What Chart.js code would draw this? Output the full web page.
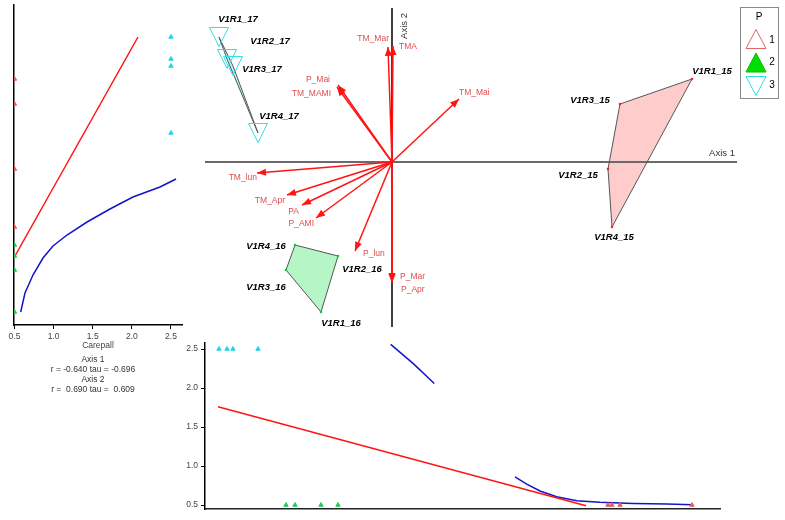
<!DOCTYPE html>
<html><head><meta charset="utf-8">
<script src="https://cdn.jsdelivr.net/npm/chart.js@4/dist/chart.umd.min.js"></script>
<style>
html,body{margin:0;padding:0;background:#fff;width:785px;height:520px;overflow:hidden;font-family:'Liberation Sans',Arial,sans-serif;}
canvas{position:absolute;}
.note{position:absolute;left:0;width:186px;text-align:center;font-size:8.5px;color:#333;line-height:10px;white-space:pre;}
</style></head><body>
<canvas id="cLeft" width="200" height="360" style="left:0;top:0;width:200px;height:360px"></canvas>
<canvas id="cMain" width="585" height="335" style="left:200px;top:0;width:585px;height:335px"></canvas>
<canvas id="cBottom" width="635" height="185" style="left:150px;top:335px;width:635px;height:185px"></canvas>
<div id="notes"></div>
<script>
// ---------------- DATA ----------------
const legendTitle = 'P';
const groupNames = ['1', '2', '3'];

const sites15 = ['V1R1_15', 'V1R2_15', 'V1R3_15', 'V1R4_15'];
const axis1_15 = [3.00, 2.16, 2.28, 2.20];
const axis2_15 = [0.83, -0.07, 0.58, -0.65];
const carepall_15 = [0.5, 0.5, 0.5, 0.5];

const sites16 = ['V1R1_16', 'V1R2_16', 'V1R3_16', 'V1R4_16'];
const axis1_16 = [-0.71, -0.54, -1.06, -0.97];
const axis2_16 = [-1.50, -0.94, -1.08, -0.83];
const carepall_16 = [0.5, 0.5, 0.5, 0.5];

const sites17 = ['V1R1_17', 'V1R2_17', 'V1R3_17', 'V1R4_17'];
const axis1_17 = [-1.73, -1.65, -1.59, -1.34];
const axis2_17 = [1.25, 1.03, 0.96, 0.29];
const carepall_17 = [2.5, 2.5, 2.5, 2.5];

// hull vertex order (indices into the site arrays)
const hull15 = [0, 2, 1, 3];
const hull16 = [3, 1, 0, 2];
const hull17 = [0, 1, 3, 2];

const vectorNames = ['TM_Mar', 'TMA', 'P_Mai', 'TM_MAMI', 'TM_Mai', 'TM_lun', 'TM_Apr', 'PA', 'P_AMI', 'P_lun', 'P_Mar', 'P_Apr'];
const vectorAxis1 = [-0.04, 0.01, -0.54, -0.55, 0.67, -1.35, -1.05, -0.90, -0.76, -0.37, 0.00, 0.00];
const vectorAxis2 = [1.15, 1.16, 0.77, 0.75, 0.63, -0.11, -0.33, -0.43, -0.56, -0.89, -1.20, -1.21];

const careTicks = [0.5, 1.0, 1.5, 2.0, 2.5];
const careAxisTitle = 'Carepall';

// Carepall vs Axis 2 (left panel)
const careLineX = [0.506, 2.078];
const careLineY = [-0.94, 1.25];
const careCurveX = [0.579, 0.634, 0.736, 0.864, 0.992, 1.171, 1.427, 1.720, 2.014, 2.359, 2.564];
const careCurveY = [-1.50, -1.31, -1.13, -0.96, -0.84, -0.73, -0.60, -0.47, -0.35, -0.25, -0.17];

// Axis 1 vs Carepall (bottom panel)
const ax1LineX = [-1.74, 1.94];
const ax1LineY = [1.76, 0.49];
const ax1CurveAX = [-0.013, 0.213, 0.423];
const ax1CurveAY = [2.56, 2.313, 2.058];
const ax1CurveBX = [1.23, 1.347, 1.48, 1.647, 1.847, 2.08, 2.413, 2.747, 3.007];
const ax1CurveBY = [0.86, 0.768, 0.68, 0.606, 0.555, 0.534, 0.521, 0.513, 0.504];

const statLines = ['Axis 1', 'r = -0.640 tau = -0.696', 'Axis 2', 'r =  0.690 tau =  0.609'];

// ---------------- STYLE / LAYOUT ----------------
const C = {
  red: '#ff1414', vecText: '#e04c4c', blue: '#1414c8',
  t15: '#e06060', t16: '#22cc55', t17: '#22d4e0',
  cyanTri: '#30e0e8', pink: '#ffcccc', green: '#b6f5c6', cyanFill: '#b8f4f8', hullLine: '#555'
};
const FONT = "'Liberation Sans', Arial, sans-serif";
// label offsets (px) relative to vector tip: [dx, dy, align]
const vecLabelOff = {
  TM_Mar: [1, -8, 'right'], TMA: [6, 1, 'left'], P_Mai: [-8, -5, 'right'], TM_MAMI: [-6, 7, 'right'],
  TM_Mai: [0, -6, 'left'], TM_lun: [0, 5, 'right'], TM_Apr: [-2, 6, 'right'], PA: [-3, 7, 'right'],
  P_AMI: [-2, 6, 'right'], P_lun: [8, 3, 'left'], P_Mar: [8, -5, 'left'], P_Apr: [9, 7, 'left']
};
// site label offsets (center) relative to site point
const siteLabelOff = {
  V1R1_17: [19, -18], V1R2_17: [43, -18], V1R3_17: [29, 3], V1R4_17: [21, -17],
  V1R1_15: [20, -8], V1R3_15: [-30, -4], V1R2_15: [-30, 6], V1R4_15: [2, 10],
  V1R4_16: [-29, 1], V1R2_16: [24, 13], V1R3_16: [-20, 17], V1R1_16: [20, 11]
};

Chart.defaults.font.family = FONT;
Chart.defaults.animation = false;
const pts = (xs, ys) => xs.map((v, i) => ({x: v, y: ys[i]}));
const noPlug = {legend: {display: false}, tooltip: {enabled: false}};

// box-centred downward triangle symbol used as point style
const downTri = (() => {
  const c = document.createElement('canvas'); c.width = 22; c.height = 22;
  const g = c.getContext('2d');
  g.strokeStyle = C.cyanTri; g.lineWidth = 1;
  g.beginPath(); g.moveTo(1.5, 1.5); g.lineTo(20.5, 1.5); g.lineTo(11, 20.5); g.closePath(); g.stroke();
  return c;
})();

// notes under left panel
const notes = document.getElementById('notes');
statLines.forEach((t, i) => {
  const d = document.createElement('div');
  d.className = 'note';
  d.style.top = (354 + i * 10) + 'px';
  d.textContent = t;
  notes.appendChild(d);
});

const tinyTri = (data, col) => ({
  data, pointStyle: 'triangle', pointRadius: 2.5, backgroundColor: col, borderColor: col, borderWidth: 1, showLine: false
});
const lineDs = (data, col) => ({
  data, showLine: true, borderColor: col, borderWidth: 1.5, pointRadius: 0, fill: false
});

// ---------------- LEFT PANEL ----------------
new Chart(document.getElementById('cLeft'), {
  type: 'scatter',
  data: {datasets: [
    tinyTri(pts(carepall_17, axis2_17), C.t17),
    tinyTri(pts(carepall_16, axis2_16), C.t16),
    tinyTri(pts(carepall_15, axis2_15), C.t15),
    lineDs(pts(careLineX, careLineY), C.red),
    lineDs(pts(careCurveX, careCurveY), C.blue)
  ]},
  options: {
    responsive: false, devicePixelRatio: 1,
    layout: {autoPadding: false, padding: {left: 14, top: 5, right: 18, bottom: 0}},
    plugins: noPlug,
    scales: {
      x: {
        type: 'linear', min: 0.4936, max: 2.6406,
        afterBuildTicks: s => { s.ticks = careTicks.map(v => ({value: v})); },
        afterFit: s => { s.height = 35; },
        ticks: {callback: v => Number(v).toFixed(1), font: {size: 8.5}, color: '#444', padding: 3, maxRotation: 0, autoSkip: false},
        grid: {display: true, drawOnChartArea: false, drawTicks: true, tickLength: 4, color: '#000'},
        border: {display: true, color: '#000', width: 1.5},
        title: {display: true, text: careAxisTitle, font: {size: 8.5}, color: '#444', padding: {top: 2, bottom: 9}}
      },
      y: {
        type: 'linear', min: -1.63, max: 1.57,
        afterFit: s => { s.width = 0; },
        ticks: {display: false},
        grid: {display: false},
        border: {display: true, color: '#000', width: 1.5}
      }
    }
  }
});

// ---------------- MAIN BIPLOT ----------------
const hulls = [
  {order: hull15, a1: axis1_15, a2: axis2_15, fill: C.pink},
  {order: hull16, a1: axis1_16, a2: axis2_16, fill: C.green},
  {order: hull17, a1: axis1_17, a2: axis2_17, fill: C.cyanFill}
];
const hullData = h => { const p = h.order.map(i => ({x: h.a1[i], y: h.a2[i]})); p.push(p[0]); return p; };

const vecDatasets = vectorNames.map((n, i) => ({
  label: n,
  data: [{x: 0, y: 0}, {x: vectorAxis1[i], y: vectorAxis2[i]}],
  showLine: true, borderColor: C.red, borderWidth: 1.5, pointRadius: 0, fill: false
}));

const mainPlugin = {
  id: 'mainDecor',
  beforeDatasetsDraw(chart) {
    const {ctx, scales: {x, y}, chartArea: a} = chart;
    ctx.save();
    hulls.forEach(h => {
      ctx.beginPath();
      h.order.forEach((i, k) => {
        const px = x.getPixelForValue(h.a1[i]), py = y.getPixelForValue(h.a2[i]);
        k ? ctx.lineTo(px, py) : ctx.moveTo(px, py);
      });
      ctx.closePath();
      ctx.fillStyle = h.fill;
      ctx.fill();
    });
    const x0 = x.getPixelForValue(0), y0 = y.getPixelForValue(0);
    ctx.strokeStyle = '#6a6a6a'; ctx.lineWidth = 2;
    ctx.beginPath(); ctx.moveTo(a.left, y0); ctx.lineTo(a.right, y0); ctx.stroke();
    ctx.strokeStyle = '#000'; ctx.lineWidth = 1.5;
    ctx.beginPath(); ctx.moveTo(x0, a.top + 3); ctx.lineTo(x0, a.bottom); ctx.stroke();
    // axis titles
    ctx.fillStyle = '#333'; ctx.font = '9.5px ' + FONT; ctx.textBaseline = 'middle';
    ctx.textAlign = 'center';
    ctx.fillText('Axis 1', a.right - 15, y0 - 9);
    ctx.save(); ctx.translate(x0 + 12, a.top + 21); ctx.rotate(-Math.PI / 2);
    ctx.fillText('Axis 2', 0, 0); ctx.restore();
    ctx.restore();
  },
  afterDatasetsDraw(chart) {
    const {ctx, scales: {x, y}} = chart;
    const x0 = x.getPixelForValue(0), y0 = y.getPixelForValue(0);
    ctx.save();
    // arrow heads + vector labels
    vectorNames.forEach((n, i) => {
      const tx = x.getPixelForValue(vectorAxis1[i]), ty = y.getPixelForValue(vectorAxis2[i]);
      const ang = Math.atan2(ty - y0, tx - x0), L = 9, W = 3.5;
      const bx = tx - L * Math.cos(ang), by = ty - L * Math.sin(ang);
      ctx.fillStyle = C.red;
      ctx.beginPath(); ctx.moveTo(tx, ty);
      ctx.lineTo(bx - W * Math.sin(ang), by + W * Math.cos(ang));
      ctx.lineTo(bx + W * Math.sin(ang), by - W * Math.cos(ang));
      ctx.closePath(); ctx.fill();
      const o = vecLabelOff[n];
      ctx.font = '8.5px ' + FONT; ctx.fillStyle = C.vecText; ctx.textBaseline = 'middle'; ctx.textAlign = o[2];
      ctx.fillText(n, tx + o[0], ty + o[1]);
    });
    // site labels
    ctx.font = 'italic bold 9.5px ' + FONT; ctx.fillStyle = '#000'; ctx.textAlign = 'center'; ctx.textBaseline = 'middle';
    [[sites15, axis1_15, axis2_15], [sites16, axis1_16, axis2_16], [sites17, axis1_17, axis2_17]].forEach(([s, a1, a2]) => {
      s.forEach((n, i) => {
        const o = siteLabelOff[n];
        ctx.fillText(n, x.getPixelForValue(a1[i]) + o[0], y.getPixelForValue(a2[i]) + o[1]);
      });
    });
    // legend box
    ctx.fillStyle = '#fff'; ctx.fillRect(540, 7, 39, 92);
    ctx.strokeStyle = '#8a8a8a'; ctx.lineWidth = 1; ctx.strokeRect(540.5, 7.5, 38, 91);
    ctx.fillStyle = '#000'; ctx.font = '10px ' + FONT; ctx.textAlign = 'center';
    ctx.fillText(legendTitle, 559, 17);
    const cx = 556;
    const tri = (ty, up, fill, stroke) => {
      ctx.beginPath();
      if (up) { ctx.moveTo(cx, ty); ctx.lineTo(cx + 10, ty + 19); ctx.lineTo(cx - 10, ty + 19); }
      else { ctx.moveTo(cx - 10, ty); ctx.lineTo(cx + 10, ty); ctx.lineTo(cx, ty + 19); }
      ctx.closePath();
      if (fill) { ctx.fillStyle = fill; ctx.fill(); }
      ctx.strokeStyle = stroke; ctx.lineWidth = 1; ctx.stroke();
    };
    tri(29.5, true, null, '#e06666');
    tri(53, true, '#00dd00', '#00c000');
    tri(76.5, false, null, C.cyanTri);
    ctx.fillStyle = '#000'; ctx.font = '10px ' + FONT;
    [40, 62, 85].forEach((ty, i) => ctx.fillText(groupNames[i], 572, ty));
    ctx.restore();
  }
};

new Chart(document.getElementById('cMain'), {
  type: 'scatter',
  data: {datasets: [
    {data: pts(axis1_17, axis2_17), pointStyle: downTri, pointRadius: 11, showLine: false, clip: false},
    {data: pts(axis1_15, axis2_15), pointStyle: 'circle', pointRadius: 1.3, backgroundColor: '#ff2020', borderColor: '#ff2020', borderWidth: 0, showLine: false},
    {data: pts(axis1_16, axis2_16), pointStyle: 'circle', pointRadius: 1.3, backgroundColor: '#00d040', borderColor: '#00d040', borderWidth: 0, showLine: false},
    ...vecDatasets,
    ...hulls.map(h => ({data: hullData(h), showLine: true, borderColor: C.hullLine, borderWidth: 1, pointRadius: 0, fill: false}))
  ]},
  options: {
    responsive: false, devicePixelRatio: 1,
    layout: {autoPadding: false, padding: {left: 5, top: 5, right: 48, bottom: 8}},
    plugins: noPlug,
    scales: {
      x: {type: 'linear', display: false, min: -1.87, max: 3.45},
      y: {type: 'linear', display: false, min: -1.65, max: 1.57}
    }
  },
  plugins: [mainPlugin]
});

// ---------------- BOTTOM PANEL ----------------
new Chart(document.getElementById('cBottom'), {
  type: 'scatter',
  data: {datasets: [
    tinyTri(pts(axis1_17, carepall_17), C.t17),
    tinyTri(pts(axis1_16, carepall_16), C.t16),
    tinyTri(pts(axis1_15, carepall_15), C.t15),
    lineDs(pts(ax1LineX, ax1LineY), C.red),
    lineDs(pts(ax1CurveAX, ax1CurveAY), C.blue),
    lineDs(pts(ax1CurveBX, ax1CurveBY), C.blue)
  ]},
  options: {
    responsive: false, devicePixelRatio: 1,
    layout: {autoPadding: false, padding: {left: 35, top: 7, right: 65, bottom: 0}},
    plugins: noPlug,
    scales: {
      x: {
        type: 'linear', min: -1.87, max: 3.28,
        afterFit: s => { s.height = 11; },
        ticks: {display: false}, grid: {display: false},
        border: {display: true, color: '#222', width: 1.5}
      },
      y: {
        type: 'linear', min: 0.449, max: 2.576,
        afterBuildTicks: s => { s.ticks = careTicks.map(v => ({value: v})); },
        afterFit: s => { s.width = 20; },
        ticks: {callback: v => Number(v).toFixed(1), font: {size: 8.5}, color: '#444', padding: 3, autoSkip: false},
        grid: {display: true, drawOnChartArea: false, drawTicks: true, tickLength: 4, color: '#000'},
        border: {display: true, color: '#000', width: 1.5}
      }
    }
  }
});
</script>
</body></html>
